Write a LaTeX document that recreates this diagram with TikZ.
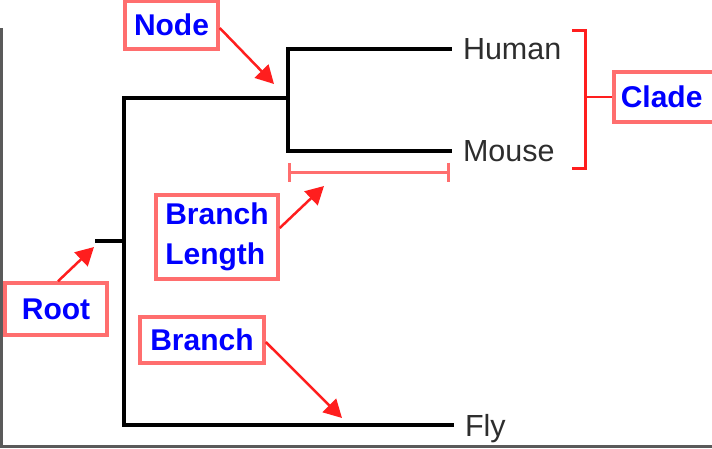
\documentclass[tikz,border=0pt]{standalone}
\usepackage{fontspec}
\setmainfont{Liberation Sans}
\usetikzlibrary{arrows.meta}
\definecolor{boxred}{RGB}{255,110,110}
\definecolor{tipred}{RGB}{255,30,30}
\definecolor{leafgray}{RGB}{45,45,45}
\definecolor{framegray}{RGB}{90,90,90}
\tikzset{
  tagbox/.style={draw=boxred,line width=3.5pt,text=blue,inner sep=0pt,
    font=\bfseries\fontsize{30}{40}\selectfont},
  leaf/.style={anchor=west,inner xsep=13pt,inner ysep=0pt,outer sep=0pt,text depth=0pt,
    text=leafgray,font=\fontsize{30.5}{36}\selectfont},
  branch/.style={line width=4pt,line cap=rect},
  pointer/.style={draw=tipred,line width=2.5pt,-{Triangle[length=18pt,width=19pt]}},
}
\begin{document}
\begin{tikzpicture}[x=1pt,y=-1pt]
\useasboundingbox (0,0) rectangle (712,448);
\clip (0,0) rectangle (712,448);
% frame of the screenshot
\draw[framegray,line width=3pt] (1.5,28) -- (1.5,446.5) -- (712,446.5);
% tree
\coordinate (stub) at (95,241);
\coordinate (rootj) at (124,241);
\coordinate (inner) at (288,98);
\node[leaf] (human) at (450,49) {Human};
\node[leaf] (mouse) at (450,151) {Mouse};
\node[leaf] (fly) at (452,425) {Fly};
\draw[branch] (human.west) -| (inner) |- (mouse.west);
\draw[branch] (inner) -| (rootj) |- (fly.west);
\draw[branch,line cap=butt] (stub) -- (rootj);
% branch length bar
\coordinate (bl1) at (288,172);
\coordinate (bl2) at (450,172);
\draw[boxred,line width=3pt,{Bar[width=19pt,line width=3pt]}-{Bar[width=19pt,line width=3pt]}] (bl1) -- (bl2);
% clade bracket
\node[tagbox,anchor=west,text width=123pt,align=left,inner xsep=7pt,minimum height=50pt] (clade) at (612,97) {Clade};
\draw[tipred,line width=3pt] (572,30) -- (585,30) -- (585,168) -- (572,168);
\draw[tipred,line width=2.5pt] (585,97) -- (clade.west);
% labels
\node[tagbox,minimum width=93pt,minimum height=48pt] (nodetag) at (171.5,25) {Node};
\node[tagbox,minimum width=122pt,minimum height=84pt,align=left] (bltag) at (217,237) {Branch\\Length};
\node[tagbox,minimum width=102pt,minimum height=52pt] (roottag) at (56,309) {Root};
\node[tagbox,minimum width=124pt,minimum height=46pt] (branchtag) at (202,340) {Branch};
% pointers
\coordinate (nodept) at (274,84);
\coordinate (blpt) at (324,186);
\coordinate (rootpt) at (94,247);
\coordinate (branchpt) at (342,418);
\draw[pointer] (nodetag.east) ++(0,3) -- (nodept);
\draw[pointer] (bltag.east) ++(0,-9) -- (blpt);
\draw[pointer] (roottag.north) ++(2,0) -- (rootpt);
\draw[pointer] (branchtag.east) ++(0,2) -- (branchpt);
\end{tikzpicture}
\end{document}
